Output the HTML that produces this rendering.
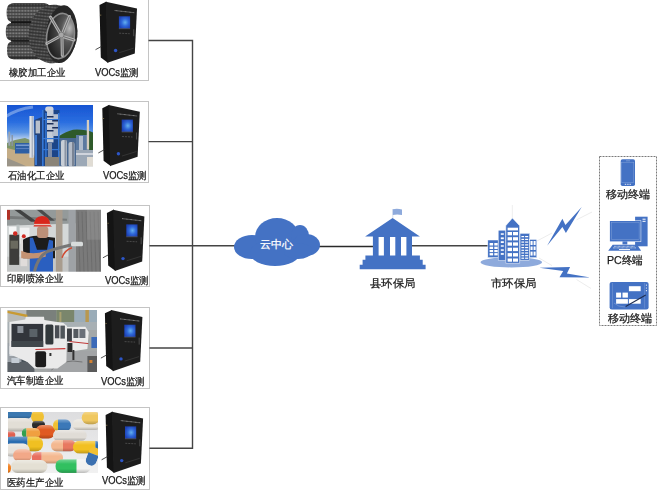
<!DOCTYPE html>
<html><head><meta charset="utf-8">
<style>
html,body{margin:0;padding:0;background:#fff;width:658px;height:492px;overflow:hidden;position:relative}
svg{position:absolute;left:0;top:0}
.t{position:absolute;transform-origin:0 0;font-family:"Liberation Sans",sans-serif;color:#1a1a1a;-webkit-text-stroke:0.25px currentColor;white-space:nowrap;line-height:1}
</style></head><body>
<svg width="658" height="492" viewBox="0 0 658 492">
<defs>
  <filter id="blur1" x="-5%" y="-5%" width="110%" height="110%"><feGaussianBlur stdDeviation="0.45"/></filter>
  <radialGradient id="scr" cx="0.55" cy="0.5" r="0.6"><stop offset="0" stop-color="#64b0ee"/><stop offset="0.5" stop-color="#2f68d8"/><stop offset="1" stop-color="#1c3fb4"/></radialGradient>
  <g id="dev">
    <polygon points="-6.2,3.2 0.8,-0.2 2.5,61.2 -4.9,55.8" fill="#141414"/>
    <polygon points="0,0 31.3,6.8 29.1,51.7 1.7,61.1" fill="#1d1d1d"/>
    <rect x="13.2" y="14.6" width="11.2" height="12.2" fill="url(#scr)"/><line x1="13.2" y1="27" x2="24.4" y2="27" stroke="#707070" stroke-width="0.5"/>
    <line x1="9" y1="8.8" x2="28.6" y2="11" stroke="#9a9a9a" stroke-width="0.9" stroke-dasharray="0.9,0.4"/>
    <line x1="13.5" y1="31.5" x2="24" y2="32" stroke="#666" stroke-width="0.6" stroke-dasharray="2,1"/>
    <rect x="27.6" y="27.5" width="0.9" height="7" fill="#555"/>
    <circle cx="9.9" cy="48.8" r="1.7" fill="#2d56c8"/>
    <line x1="13.5" y1="51" x2="28" y2="46.5" stroke="#4a4a4a" stroke-width="0.5"/>
    <rect x="-5.8" y="13" width="1.4" height="0.8" fill="#8a7a50"/>
    <path d="M-10.2,48 L-3.3,44.2" stroke="#222" stroke-width="0.8" fill="none"/>
  </g>
</defs>
<!-- boxes -->
<g fill="none" stroke="#c4c4c4" stroke-width="1">
  <rect x="-2" y="-5" width="150.5" height="85.5"/>
  <rect x="-2" y="101.5" width="150.5" height="81"/>
  <rect x="0.5" y="205.5" width="149" height="81"/>
  <rect x="0.5" y="307.5" width="149" height="81"/>
  <rect x="0.5" y="407.5" width="149" height="82"/>
</g>
<!-- connector lines -->
<g stroke="#444" stroke-width="1.4" fill="none">
  <path d="M148.5,40.5 H192.5 V448.3 H149.4"/>
  <path d="M148.5,141.6 H192.5"/>
  <path d="M149.4,245.8 H240"/>
  <path d="M149.4,348 H192.5"/>
  <path d="M318,246.5 H373" stroke="#2a2a2a"/>
  <path d="M412,245.7 H488"/>
</g>
<!-- devices -->
<use href="#dev" x="105.7" y="1.7"/>
<use href="#dev" x="108.5" y="105"/>
<use href="#dev" x="113.1" y="209.8"/>
<use href="#dev" x="111.1" y="310.1"/>
<use href="#dev" x="111.8" y="411.8"/>
<!-- PHOTO1 -->
<g id="p1">
  <defs>
    <pattern id="tread" x="0" y="0" width="3" height="3.2" patternUnits="userSpaceOnUse">
      <rect width="3" height="3.2" fill="#424242"/>
      <rect x="0.3" y="0.5" width="2.2" height="1.5" fill="#8a8a8a"/>
    </pattern>
    <linearGradient id="tshade" x1="0" y1="0" x2="0" y2="1">
      <stop offset="0" stop-color="#000" stop-opacity="0.55"/><stop offset="0.3" stop-color="#000" stop-opacity="0"/><stop offset="0.7" stop-color="#000" stop-opacity="0"/><stop offset="1" stop-color="#000" stop-opacity="0.6"/>
    </linearGradient>
    <radialGradient id="rim2" cx="0.8" cy="0.3" r="0.8"><stop offset="0" stop-color="#b8b8b8"/><stop offset="0.4" stop-color="#555"/><stop offset="1" stop-color="#222"/></radialGradient>
    <radialGradient id="rimg" cx="0.6" cy="0.35" r="0.7">
      <stop offset="0" stop-color="#e0e0e0"/><stop offset="0.6" stop-color="#9a9a9a"/><stop offset="1" stop-color="#5a5a5a"/>
    </radialGradient>
  </defs>
  <path d="M44,3.3 L14,3.3 C8,3.3 6.6,7 6.6,12.7 C6.6,18.5 8,22.2 14,22.2 L50,22.2 L50,6 Q48,3.3 44,3.3 Z" fill="url(#tread)"/>
  <path d="M44,3.3 L14,3.3 C8,3.3 6.6,7 6.6,12.7 C6.6,18.5 8,22.2 14,22.2 L50,22.2 L50,6 Q48,3.3 44,3.3 Z" fill="url(#tshade)"/>
  <path d="M48,22.8 L13,22.8 C7,22.8 5.8,26.5 5.8,31.7 C5.8,37 7,40.6 13,40.6 L48,40.6 Z" fill="url(#tread)"/>
  <path d="M48,22.8 L13,22.8 C7,22.8 5.8,26.5 5.8,31.7 C5.8,37 7,40.6 13,40.6 L48,40.6 Z" fill="url(#tshade)"/>
  <path d="M50,41.3 L14,41.3 C8,41.3 7,45 7,50.3 C7,55.5 8,59.3 14,59.3 L50,59.3 Z" fill="url(#tread)"/>
  <path d="M50,41.3 L14,41.3 C8,41.3 7,45 7,50.3 C7,55.5 8,59.3 14,59.3 L50,59.3 Z" fill="url(#tshade)"/>
  <rect x="11" y="21.6" width="39" height="1.5" fill="#151515"/>
  <rect x="11" y="40.1" width="39" height="1.5" fill="#151515"/>
  <!-- big tire -->
  <ellipse cx="53" cy="34" rx="24.5" ry="29.3" transform="rotate(6 53 34)" fill="url(#tread)"/>
  <ellipse cx="53" cy="34" rx="24.5" ry="29.3" transform="rotate(6 53 34)" fill="#000" opacity="0.25"/>
  <ellipse cx="61.5" cy="34.2" rx="15.5" ry="29" transform="rotate(6 61.5 34.2)" fill="#262626"/>
  <ellipse cx="60.5" cy="36" rx="14.6" ry="23.6" transform="rotate(8 60.5 36)" fill="#8a8a8a"/>
  <ellipse cx="60.5" cy="36" rx="13" ry="22" transform="rotate(8 60.5 36)" fill="url(#rim2)"/>
  <g stroke="#b4b4b4" stroke-width="3" fill="none" stroke-linecap="round">
    <path d="M60.5,34 L50.5,17"/><path d="M62.5,33.5 L69.5,16.5"/><path d="M63,36.5 L74,40"/><path d="M62,37.5 L62.3,55.5"/><path d="M59.5,36.5 L46.8,43.5"/>
  </g>
  <g stroke="#3a3a3a" stroke-width="0.6" fill="none">
    <path d="M60.5,34 L50.5,17"/><path d="M62.5,33.5 L69.5,16.5"/><path d="M63,36.5 L74,40"/><path d="M62,37.5 L62.3,55.5"/><path d="M59.5,36.5 L46.8,43.5"/>
  </g>
  <circle cx="61.2" cy="35" r="2.8" fill="#a8a8a8" stroke="#5a5a5a" stroke-width="0.5"/>
</g>
<!-- PHOTO2 -->
<svg x="7" y="105" width="86" height="61.5" viewBox="0 0 86 61.5">
  <defs><linearGradient id="sky2" x1="0" y1="0" x2="0" y2="1">
    <stop offset="0" stop-color="#1450d0"/><stop offset="0.3" stop-color="#2a6ee0"/><stop offset="0.45" stop-color="#5a94e4"/><stop offset="0.55" stop-color="#b4cdee"/><stop offset="0.65" stop-color="#d4dce6"/><stop offset="1" stop-color="#d0ccc0"/></linearGradient></defs>
  <g filter="url(#blur1)">
  <rect x="-3" y="-3" width="92" height="67.5" fill="url(#sky2)"/>
  <path d="M-2,12 Q10,4 26,2" stroke="#a8c4f0" stroke-width="3" fill="none" opacity="0.55"/>
  <path d="M52,31 Q60,26 66,24.7 Q78,24 86,27.4 L86,46 L52,46 Z" fill="#2e5a2c"/>
  <path d="M0,38 L8,35 L18,33 L26,36 L26,46 L0,46 Z" fill="#7d9468"/>
  <rect x="1.4" y="26.7" width="1.8" height="14" fill="#98a4b4"/>
  <rect x="4.5" y="30" width="1.4" height="11" fill="#8894a4"/>
  <polygon points="0,43 27,50 32,61.5 0,61.5" fill="#c4ac86"/>
  <polygon points="0,53 20,61.5 0,61.5" fill="#9a9488"/>
  <rect x="8" y="38" width="15" height="10.5" fill="#2f5ea4"/>
  <rect x="9" y="39.5" width="13" height="1.5" fill="#7a9cd0"/>
  <rect x="9" y="43" width="13" height="1" fill="#5a80c0"/>
  <polygon points="27.4,15 35,12 35,61.5 27.4,61.5" fill="#22427a"/>
  <rect x="28.6" y="15.6" width="4.4" height="12.8" fill="#b8c0cc"/>
  <rect x="28" y="30" width="2" height="30" fill="#3a78d0"/>
  <rect x="35" y="5" width="17.5" height="56.5" fill="#1f4488"/>
  <rect x="38.2" y="1.6" width="8.3" height="5.1" rx="2.5" fill="#d0d4dc"/>
  <rect x="40" y="5.4" width="6.5" height="32" fill="#c4ccd8"/>
  <rect x="45.2" y="9.2" width="7" height="21.8" fill="#b4bece"/>
  <g fill="#1a2e58"><rect x="40" y="11" width="6.5" height="1.5"/><rect x="40" y="18" width="6.5" height="1.5"/><rect x="40" y="25" width="6.5" height="1.5"/><rect x="45.2" y="15" width="7" height="1.5"/><rect x="45.2" y="22" width="7" height="1.5"/></g>
  <g fill="#3478d8"><rect x="35" y="5" width="1.6" height="56"/><rect x="38.2" y="8" width="1.4" height="52"/><rect x="51" y="8" width="1.5" height="52"/><rect x="35" y="14" width="17.5" height="1"/><rect x="35" y="33" width="17.5" height="1.2"/><rect x="35" y="44" width="17.5" height="1.2"/></g>
  <rect x="41" y="38" width="4" height="14" fill="#7a8aa8"/>
  <rect x="38" y="52" width="14" height="9.5" fill="#8a8478"/>
  <rect x="22.4" y="11" width="4.3" height="41.7" fill="#dce0e6"/>
  <rect x="24.6" y="11" width="1.3" height="41.7" fill="#a8b0bc"/>
  <rect x="52.5" y="33" width="16.5" height="28.5" fill="#4a6890"/>
  <rect x="54" y="35" width="6" height="26.5" rx="2" fill="#c8ced6"/>
  <rect x="57.5" y="35" width="2" height="26.5" fill="#8a94a4"/>
  <rect x="61.5" y="37" width="6" height="24.5" rx="2" fill="#b4bcc8"/>
  <rect x="65" y="37" width="2" height="24.5" fill="#7a8494"/>
  <rect x="69" y="30" width="13" height="16" fill="#5b7aa0"/>
  <rect x="72" y="31" width="4" height="14" fill="#b0bccc"/>
  <rect x="79.8" y="15" width="2.3" height="29.5" fill="#d6cebe"/>
  <rect x="69" y="45" width="17" height="16.5" fill="#9ca8b6"/>
  <rect x="69" y="48" width="17" height="2" fill="#d0d4dc"/>
  <rect x="80" y="52" width="6" height="9.5" fill="#e0dcd4"/>
  </g>
</svg>
<!-- PHOTO3 -->
<svg x="7" y="209.7" width="94" height="62" viewBox="0 0 94 62">
  <g filter="url(#blur1)">
  <rect x="-3" y="-3" width="100" height="68" fill="#d4d8d8"/>
  <polygon points="-3,-3 97,-3 97,12 60,14 -3,16" fill="#949a9a"/>
  <polygon points="-3,6 60,9 60,11 -3,9" fill="#767a7a"/>
  <polygon points="3,-3 9,-3 30,12 24,12" fill="#404242"/>
  <polygon points="26,-3 31,-3 48,11 43,11" fill="#4a4c4c"/>
  <polygon points="0,0 3,0 3,10 0,10" fill="#b03028"/>
  <rect x="2" y="17" width="8" height="16" fill="#f4f6f6"/>
  <rect x="12.5" y="18" width="10" height="16" fill="#f0f2f2"/>
  <rect x="9.5" y="15" width="3" height="30" fill="#bcc4c4"/>
  <rect x="-3" y="47" width="66" height="18" fill="#c4c6c6"/>
  <rect x="61.5" y="-3" width="7.3" height="68" fill="#9ea2a6"/>
  <rect x="68.8" y="-3" width="28" height="68" fill="#7a7a7a"/>
  <g stroke="#646464" stroke-width="0.8" opacity="0.8">
    <line x1="71" y1="2" x2="73" y2="62"/><line x1="75" y1="2" x2="77" y2="62"/><line x1="79" y1="2" x2="81" y2="62"/><line x1="83" y1="2" x2="85" y2="62"/><line x1="87" y1="2" x2="89" y2="62"/><line x1="91" y1="2" x2="93" y2="62"/>
  </g>
  <rect x="80" y="0" width="14" height="30" fill="#9a9a9a" opacity="0.4"/>
  <rect x="48.9" y="-3" width="6.6" height="68" fill="#a89c8e"/>
  <rect x="2.3" y="25" width="9.9" height="30.2" fill="#3e3e3a"/>
  <rect x="3.5" y="31" width="7.5" height="8" fill="#6a6a5e"/>
  <circle cx="8.2" cy="23.8" r="2.2" fill="#d02a20"/>
  <rect x="13.5" y="28" width="6.7" height="28.5" fill="#e0dcda"/>
  <circle cx="16.8" cy="26.5" r="2" fill="#d02a20"/>
  <path d="M16,30 Q22,26 30,26 L48,28 L48,48.6 L16.2,48.6 Z" fill="#1a1a1c"/>
  <path d="M22.8,28 L26,28 L30,40 L40,40 L42,30 L46,31 L46,62 L22.8,62 Z" fill="#2a5ec0"/>
  <rect x="30" y="16.8" width="11.3" height="11.5" rx="3" fill="#bc9078"/>
  <path d="M26.8,16.5 Q27,6.2 35,6.2 Q43,6.2 43.3,15.5 L45,16.8 L26,16.8 Z" fill="#d8281c"/>
  <rect x="27" y="14.2" width="16.5" height="1.3" fill="#e8c0b8"/>
  <path d="M14.2,41 Q26,46 38.7,41 L38.7,47 Q26,50 14.2,48.6 Z" fill="#c49272"/>
  <path d="M27.4,62 Q31,47 40,42 Q50,38 70,34" stroke="#767676" stroke-width="3" fill="none"/>
  <rect x="64" y="32" width="12" height="4.6" rx="1.5" fill="#d8dcdc"/>
  <path d="M55,48 Q58,40 65,38" stroke="#d04a30" stroke-width="1.5" fill="none"/>
  </g>
</svg>
<!-- PHOTO4 -->
<svg x="7.4" y="310" width="89.6" height="62" viewBox="0 0 89.6 62">
  <g filter="url(#blur1)">
  <rect x="-3" y="-3" width="96" height="68" fill="#a4a8a8"/>
  <rect x="-3" y="-3" width="24" height="17" fill="#b8bab8"/>
  <rect x="19" y="-3" width="30" height="17" fill="#7a807c"/>
  <rect x="49" y="-3" width="18" height="23" fill="#7a866c"/>
  <rect x="52" y="2" width="2" height="18" fill="#a8a070"/>
  <rect x="67" y="-3" width="25" height="23" fill="#9aacb8"/>
  <rect x="78" y="-3" width="3.5" height="23" fill="#b89850"/>
  <polygon points="-3,0 20,4.8 20,7.2 -3,2.5" fill="#c89a30"/>
  <rect x="-3" y="12" width="96" height="8" fill="#a8b0b4"/>
  <rect x="40" y="41" width="52" height="24" fill="#a2a4a6"/>
  <path d="M44,60 Q55,48 75,52" stroke="#444" stroke-width="0.5" fill="none"/>
  <rect x="-3" y="33" width="30" height="32" fill="#9aa0a6"/>
  <rect x="2" y="36" width="10" height="10" fill="#d8dce0"/>
  <rect x="14" y="36" width="5" height="22" fill="#4a525a"/>
  <rect x="-3" y="52" width="30" height="13" fill="#5a6066"/>
  <rect x="4" y="48" width="8" height="5" fill="#c4ccd4"/>
  <path d="M58,17 L78,16.8 L81.3,22 L80,39 L60,42 Z" fill="#ececec"/>
  <rect x="59.5" y="18.5" width="5" height="13" fill="#3c4044"/>
  <rect x="66" y="19" width="5" height="9" fill="#555a60"/>
  <rect x="72" y="19" width="6" height="9" fill="#6a7078"/>
  <line x1="62" y1="31.5" x2="81" y2="33.6" stroke="#c03838" stroke-width="1"/>
  <rect x="60" y="33" width="5" height="9" fill="#2a2a2a"/>
  <rect x="65" y="40" width="2" height="10" fill="#333"/>
  <path d="M2,12 L17.8,9.5 L18.5,6.7 L36.6,6.7 L37,10 L56,13 L59.7,16 L59,52 L50,58.6 L27,58.6 L20,52 L2,44 Z" fill="#eaeaea"/>
  <rect x="4.1" y="13.9" width="31.7" height="23" fill="#30343a"/>
  <rect x="10" y="16" width="6" height="7" fill="#8a9098"/>
  <rect x="22" y="19" width="8" height="8" fill="#5a6268"/>
  <rect x="4.1" y="31" width="31.7" height="6" fill="#40464c"/>
  <rect x="38" y="14.5" width="8" height="20" rx="1.5" fill="#33373a"/>
  <rect x="47.5" y="15.3" width="4.5" height="13" fill="#4a4e52"/>
  <rect x="53" y="15.6" width="4.5" height="13" fill="#50545a"/>
  <line x1="28" y1="39.5" x2="58" y2="38.6" stroke="#c83434" stroke-width="1.2"/>
  <rect x="27.9" y="41.3" width="10.8" height="16" rx="2" fill="#1e1e1e"/>
  <rect x="42" y="43" width="2" height="3" fill="#333"/>
  <rect x="80" y="46" width="12" height="19" fill="#5a5a5a"/>
  <rect x="82" y="50" width="3" height="3" fill="#d08030"/>
  <rect x="84" y="27" width="5.6" height="11" fill="#3a6ab8"/>
  </g>
</svg>
<!-- PHOTO5 -->
<svg x="8" y="412" width="90" height="61" viewBox="0 0 90 61">
<defs><linearGradient id="capsh" x1="0" y1="0" x2="0" y2="1"><stop offset="0" stop-color="#fff" stop-opacity="0.35"/><stop offset="0.35" stop-color="#fff" stop-opacity="0"/><stop offset="0.7" stop-color="#000" stop-opacity="0"/><stop offset="1" stop-color="#000" stop-opacity="0.22"/></linearGradient>
<linearGradient id="bg5" x1="0" y1="0" x2="0" y2="1"><stop offset="0" stop-color="#dcdcde"/><stop offset="1" stop-color="#f2f2f2"/></linearGradient></defs>
<g filter="url(#blur1)">
<rect x="-3" y="-3" width="96" height="67" fill="url(#bg5)"/>
<rect x="-4" y="-3" width="28" height="9.6" rx="4.8" fill="#3a78b0"/>
<rect x="-4" y="-3" width="28" height="9.6" rx="4.8" fill="url(#capsh)"/>
<rect x="-4" y="6" width="28" height="13.4" rx="6.7" fill="#e2ded6"/>
<rect x="-4" y="6" width="28" height="13.4" rx="6.7" fill="url(#capsh)"/>
<rect x="23" y="-2" width="13" height="13.6" rx="6.8" fill="#f0c030"/>
<rect x="23" y="-2" width="13" height="13.6" rx="6.8" fill="url(#capsh)"/>
<rect x="24" y="9" width="13" height="8" rx="4.0" fill="#2a2a2a"/>
<rect x="24" y="9" width="13" height="8" rx="4.0" fill="url(#capsh)"/>
<rect x="27.3" y="13" width="20" height="13.6" rx="6.8" fill="#e05a20"/>
<rect x="27.3" y="13" width="20" height="13.6" rx="6.8" fill="url(#capsh)"/>
<clipPath id="c16"><rect x="45" y="7.3" width="18" height="12.1" rx="6.0"/></clipPath>
<g clip-path="url(#c16)"><rect x="45" y="7.3" width="5.0" height="12.1" fill="#f0c030"/><rect x="50.0" y="7.3" width="13.1" height="12.1" fill="#3a78b8"/></g>
<rect x="45" y="7.3" width="18" height="12.1" rx="6.0" fill="url(#capsh)"/>
<rect x="64.4" y="7.3" width="28" height="10.7" rx="5.3" fill="#e8e4dc"/>
<rect x="64.4" y="7.3" width="28" height="10.7" rx="5.3" fill="url(#capsh)"/>
<rect x="73.7" y="-1" width="18" height="13.3" rx="6.7" fill="#f0c860"/>
<rect x="73.7" y="-1" width="18" height="13.3" rx="6.7" fill="url(#capsh)"/>
<clipPath id="c23"><rect x="13.7" y="15.9" width="18.6" height="10.7" rx="5.3"/></clipPath>
<g clip-path="url(#c23)"><rect x="13.7" y="15.9" width="4.7" height="10.7" fill="#30a050"/><rect x="18.4" y="15.9" width="14.1" height="10.7" fill="#f0a040"/></g>
<rect x="13.7" y="15.9" width="18.6" height="10.7" rx="5.3" fill="url(#capsh)"/>
<rect x="-4" y="19.4" width="11.3" height="7.2" rx="3.6" fill="#e06050"/>
<rect x="-4" y="19.4" width="11.3" height="7.2" rx="3.6" fill="url(#capsh)"/>
<rect x="45" y="18" width="33.7" height="10.7" rx="5.3" fill="#e0dcd6"/>
<rect x="45" y="18" width="33.7" height="10.7" rx="5.3" fill="url(#capsh)"/>
<clipPath id="c30"><rect x="-4" y="24.4" width="39.1" height="15" rx="7.5"/></clipPath>
<g clip-path="url(#c30)"><rect x="-4" y="24.4" width="23.5" height="15" fill="#2a6cb0"/><rect x="19.5" y="24.4" width="15.7" height="15" fill="#f0c020"/></g>
<rect x="-4" y="24.4" width="39.1" height="15" rx="7.5" fill="url(#capsh)"/>
<clipPath id="c33"><rect x="43" y="28" width="25" height="11.4" rx="5.7"/></clipPath>
<g clip-path="url(#c33)"><rect x="43" y="28" width="12.0" height="11.4" fill="#f4b890"/><rect x="55.0" y="28" width="13.1" height="11.4" fill="#e87860"/></g>
<rect x="43" y="28" width="25" height="11.4" rx="5.7" fill="url(#capsh)"/>
<clipPath id="c36"><rect x="65" y="28.7" width="28" height="12.9" rx="6.5"/></clipPath>
<g clip-path="url(#c36)"><rect x="65" y="28.7" width="22.4" height="12.9" fill="#f2c020"/><rect x="87.4" y="28.7" width="5.7" height="12.9" fill="#2a6cb0"/></g>
<rect x="65" y="28.7" width="28" height="12.9" rx="6.5" fill="url(#capsh)"/>
<rect x="-4" y="31.6" width="25.6" height="12.8" rx="6.4" fill="#e6e2dc"/>
<rect x="-4" y="31.6" width="25.6" height="12.8" rx="6.4" fill="url(#capsh)"/>
<rect x="5.1" y="37.3" width="18.6" height="12.1" rx="6.0" fill="#f2a888"/>
<rect x="5.1" y="37.3" width="18.6" height="12.1" rx="6.0" fill="url(#capsh)"/>
<clipPath id="c43"><rect x="23.7" y="40.1" width="31.4" height="11.5" rx="5.8"/></clipPath>
<g clip-path="url(#c43)"><rect x="23.7" y="40.1" width="10.0" height="11.5" fill="#e87060"/><rect x="33.7" y="40.1" width="21.5" height="11.5" fill="#f4b890"/></g>
<rect x="23.7" y="40.1" width="31.4" height="11.5" rx="5.8" fill="url(#capsh)"/>
<rect x="3" y="48" width="36.4" height="12.9" rx="6.5" fill="#e4e0d4"/>
<rect x="3" y="48" width="36.4" height="12.9" rx="6.5" fill="url(#capsh)"/>
<clipPath id="c48"><rect x="47.3" y="47.3" width="35.7" height="13.6" rx="6.8"/></clipPath>
<g clip-path="url(#c48)"><rect x="47.3" y="47.3" width="21.4" height="13.6" fill="#30c060"/><rect x="68.7" y="47.3" width="14.4" height="13.6" fill="#f2f2f0"/></g>
<rect x="47.3" y="47.3" width="35.7" height="13.6" rx="6.8" fill="url(#capsh)"/>
<rect x="-4" y="51.6" width="7" height="9.3" rx="4.7" fill="#f08020"/>
<rect x="-4" y="51.6" width="7" height="9.3" rx="4.7" fill="url(#capsh)"/>
<g transform="rotate(20 85 45)"><clipPath id="c17"><rect x="79" y="35" width="11" height="19" rx="5.5"/></clipPath><g clip-path="url(#c17)"><rect x="79" y="35" width="11" height="7" fill="#f2c030"/><rect x="79" y="42" width="11" height="12" fill="#3a70b0"/></g></g>
</g></svg>
<!-- cloud -->
<g fill="#4472c4">
  <ellipse cx="252" cy="247" rx="18" ry="12"/>
  <ellipse cx="277" cy="237" rx="22" ry="19"/>
  <ellipse cx="300" cy="236" rx="9" ry="11"/>
  <ellipse cx="306" cy="245" rx="14" ry="11"/>
  <ellipse cx="275" cy="253" rx="25" ry="13"/>
  <ellipse cx="298" cy="251" rx="14" ry="8"/>
</g>
<!-- county building -->
<path fill="#4472c4" d="M392.6,218.1 L419.9,236.6 L412,236.6 L412,255.5 L419.9,255.5 L419.9,259.8 L422.7,259.8 L422.7,264.7 L425.6,264.7 L425.6,269.3 L359.7,269.3 L359.7,264.7 L362.6,264.7 L362.6,259.8 L365.4,259.8 L365.4,255.5 L372.9,255.5 L372.9,236.6 L365.1,236.6 Z"/>
<g fill="#fff">
  <rect x="378.6" y="237" width="5.3" height="18.5"/>
  <rect x="390" y="237" width="5.3" height="18.5"/>
  <rect x="401" y="237" width="5.4" height="18.5"/>
</g>
<line x1="392.8" y1="209" x2="392.8" y2="218.1" stroke="#c8d2e8" stroke-width="0.7"/>
<path d="M392.8,209.3 Q397,208.3 402,209.5 L402,215 Q397,213.8 392.8,215 Z" fill="#8eaadc"/>
<!-- city building -->
<ellipse cx="511.3" cy="262.3" rx="30.8" ry="5.1" fill="#8eaadc"/>
<line x1="512.3" y1="205" x2="512.3" y2="218" stroke="#e0e0e0" stroke-width="0.6"/>
<g fill="#4472c4" stroke="#fff" stroke-width="0.5">
<rect x="487.8" y="240" width="10.4" height="17.7"/>
<rect x="498.2" y="230.2" width="7.6" height="30.5"/>
<rect x="520" y="233.3" width="9.7" height="26.9"/>
<rect x="529.7" y="239.4" width="7.1" height="18.3"/>
<polygon points="512.4,218 519.6,225.7 519.6,263.3 505.8,263.3 505.8,225.7"/>
</g>
<g fill="#fff"><rect x="507.6" y="227.7" width="10.4" height="2.7"/><rect x="507.6" y="232" width="4.4" height="3.3"/><rect x="513" y="232" width="5" height="3.3"/><rect x="507.6" y="237.2" width="4.4" height="3.2"/><rect x="513" y="237.2" width="5" height="3.2"/><rect x="507.6" y="242.4" width="4.4" height="3.3"/><rect x="513" y="242.4" width="5" height="3.3"/><rect x="507.6" y="247.7" width="4.4" height="3.4"/><rect x="513" y="247.7" width="5" height="3.4"/><rect x="507.6" y="253.1" width="4.4" height="3.4"/><rect x="513" y="253.1" width="5" height="3.4"/><rect x="507.6" y="258.5" width="4.4" height="3.2"/><rect x="513" y="258.5" width="5" height="3.2"/><rect x="500.8" y="233.3" width="3" height="1.5"/><rect x="500.8" y="237.4" width="3" height="1.8"/><rect x="500.8" y="241.2" width="3" height="1.8"/><rect x="500.8" y="245.3" width="3" height="1.4"/><rect x="500.8" y="249.3" width="3" height="1.5"/><rect x="500.8" y="253.1" width="3" height="1.7"/><rect x="489.6" y="243" width="3.5" height="2.5"/><rect x="494.3" y="243" width="3.4" height="2.5"/><rect x="489.6" y="246.7" width="3.5" height="2.3"/><rect x="494.3" y="246.7" width="3.4" height="2.3"/><rect x="489.6" y="250" width="3.5" height="2.1"/><rect x="494.3" y="250" width="3.4" height="2.1"/><rect x="489.6" y="253.1" width="3.5" height="2.3"/><rect x="494.3" y="253.1" width="3.4" height="2.3"/><rect x="521.4" y="236" width="2.7" height="1.2"/><rect x="525.1" y="236" width="3.1" height="1.2"/><rect x="521.4" y="238.8" width="2.7" height="1.2"/><rect x="525.1" y="238.8" width="3.1" height="1.2"/><rect x="521.4" y="241.5" width="2.7" height="1.2"/><rect x="525.1" y="241.5" width="3.1" height="1.2"/><rect x="521.4" y="244.3" width="2.7" height="1.2"/><rect x="525.1" y="244.3" width="3.1" height="1.2"/><rect x="521.4" y="247" width="2.7" height="1.2"/><rect x="525.1" y="247" width="3.1" height="1.2"/><rect x="521.4" y="249.7" width="2.7" height="1.2"/><rect x="525.1" y="249.7" width="3.1" height="1.2"/><rect x="521.4" y="252.4" width="2.7" height="1.2"/><rect x="525.1" y="252.4" width="3.1" height="1.2"/><rect x="521.4" y="255.1" width="2.7" height="1.2"/><rect x="525.1" y="255.1" width="3.1" height="1.2"/><rect x="521.4" y="257.6" width="2.7" height="1.2"/><rect x="525.1" y="257.6" width="3.1" height="1.2"/><rect x="530.5" y="241" width="2.1" height="4.0"/><rect x="533.6" y="241" width="2" height="4.0"/><rect x="530.5" y="246.5" width="2.1" height="3.5"/><rect x="533.6" y="246.5" width="2" height="3.5"/><rect x="530.5" y="251.6" width="2.1" height="4.0"/><rect x="533.6" y="251.6" width="2" height="4.0"/></g>
<!-- bolts -->
<g stroke="#d8d8d8" stroke-width="0.5">
  <line x1="537" y1="241" x2="552" y2="233"/>
  <line x1="576.6" y1="219.8" x2="592" y2="212"/>
  <line x1="539" y1="258" x2="552" y2="265.6"/>
  <line x1="576.5" y1="279.5" x2="591" y2="288.5"/>
</g>
<g fill="#4472c4">
  <polygon points="581.7,207.1 565.9,233.1 562.4,227 547.1,245.8 562.4,218.8 565.4,224.9"/>
  <polygon points="539.3,267.8 570.1,266.9 566.9,273.6 590.3,277.6 559.5,277.3 563.2,271"/>
</g>
<!-- terminal box -->
<rect x="599.5" y="156.5" width="57" height="169" fill="none" stroke="#7a7a7a" stroke-width="1" stroke-dasharray="2,1"/>
<!-- phone -->
<rect x="620.7" y="159.2" width="14.3" height="26.8" rx="1.8" fill="#4472c4"/>
<rect x="621.4" y="162.4" width="12.4" height="20.1" fill="none" stroke="#8eaadc" stroke-width="0.4"/>
<line x1="626" y1="160.8" x2="630" y2="160.8" stroke="#a8bde4" stroke-width="0.5"/>
<g fill="#dfe7f5"><rect x="624.8" y="183.8" width="1.4" height="1"/><rect x="627.2" y="183.8" width="1.4" height="1"/><rect x="629.5" y="183.8" width="1.4" height="1"/></g>
<!-- PC -->
<rect x="635.1" y="216.7" width="12.5" height="29.6" fill="#4472c4"/>
<rect x="642.5" y="218.7" width="3.1" height="1" fill="#fff"/>
<rect x="642.5" y="220.8" width="3.1" height="1" fill="#fff"/>
<rect x="609.4" y="220.5" width="31.8" height="21.4" fill="#fff"/>
<rect x="609.9" y="221" width="30.8" height="20.4" fill="#4472c4"/>
<rect x="611.5" y="222.7" width="27.6" height="16.7" fill="none" stroke="#8eaadc" stroke-width="0.4"/>
<rect x="622.5" y="241.4" width="4.8" height="3" fill="#4472c4"/>
<polygon points="612.7,244.7 637.1,244.7 641.1,250.8 608.2,250.8" fill="#4472c4"/>
<g stroke="#fff" stroke-width="0.7" stroke-dasharray="0.8,0.5">
  <line x1="614" y1="246.3" x2="635" y2="246.3"/>
  <line x1="613" y1="247.9" x2="636" y2="247.9"/>
</g>
<rect x="619" y="249" width="11" height="0.9" fill="#fff"/>
<!-- tablet -->
<rect x="609.6" y="281.9" width="39" height="27.5" rx="2.2" fill="#4472c4"/>
<line x1="612.5" y1="283" x2="612.5" y2="308.3" stroke="#8eaadc" stroke-width="0.4"/>
<line x1="644.6" y1="283" x2="644.6" y2="308.3" stroke="#8eaadc" stroke-width="0.4"/>
<g fill="#fff">
  <rect x="628.9" y="286.2" width="11.8" height="5"/>
  <rect x="616.1" y="292.6" width="5" height="5"/>
  <rect x="622.5" y="292.6" width="5.4" height="5"/>
  <rect x="616.1" y="299.1" width="11.8" height="4.6"/>
  <rect x="628.9" y="299.1" width="11.8" height="4.6"/>
  <circle cx="646.4" cy="285.1" r="0.6"/><circle cx="646.4" cy="288" r="0.6"/><circle cx="646.4" cy="290.7" r="0.6"/>
</g>
<path d="M614,303 Q618,307 625,307" stroke="#a8bde4" stroke-width="0.4" fill="none"/>
<line x1="625.7" y1="306.6" x2="645.7" y2="295.1" stroke="#1f2d50" stroke-width="1.1"/>
</svg>
<div class="t" style="left:8.6px;top:68.1px;font-size:10px;transform:scaleX(0.94)">橡胶加工企业</div>
<div class="t" style="left:95.3px;top:67.5px;font-size:10px;transform:scaleX(0.94)">VOCs监测</div>
<div class="t" style="left:7.7px;top:170.7px;font-size:10px;transform:scaleX(0.94)">石油化工企业</div>
<div class="t" style="left:102.9px;top:170.6px;font-size:10px;transform:scaleX(0.94)">VOCs监测</div>
<div class="t" style="left:6.6px;top:274.4px;font-size:10px;transform:scaleX(0.94)">印刷喷涂企业</div>
<div class="t" style="left:105.1px;top:275.6px;font-size:10px;transform:scaleX(0.94)">VOCs监测</div>
<div class="t" style="left:6.6px;top:376.4px;font-size:10px;transform:scaleX(0.94)">汽车制造企业</div>
<div class="t" style="left:101.4px;top:377.0px;font-size:10px;transform:scaleX(0.94)">VOCs监测</div>
<div class="t" style="left:6.8px;top:477.6px;font-size:10px;transform:scaleX(0.94)">医药生产企业</div>
<div class="t" style="left:102.3px;top:476.3px;font-size:10px;transform:scaleX(0.94)">VOCs监测</div>
<div class="t" style="left:259.7px;top:239.4px;font-size:11px;transform:scaleX(1.0);color:#fff">云中心</div>
<div class="t" style="left:369.8px;top:278.2px;font-size:11px;transform:scaleX(1.035)">县环保局</div>
<div class="t" style="left:491.1px;top:278.0px;font-size:11px;transform:scaleX(1.035)">市环保局</div>
<div class="t" style="left:605.5px;top:188.8px;font-size:11px;transform:scaleX(1.01)">移动终端</div>
<div class="t" style="left:606.9px;top:254.7px;font-size:11px;transform:scaleX(0.97)">PC终端</div>
<div class="t" style="left:607.7px;top:312.9px;font-size:11px;transform:scaleX(1.01)">移动终端</div>
</body></html>
